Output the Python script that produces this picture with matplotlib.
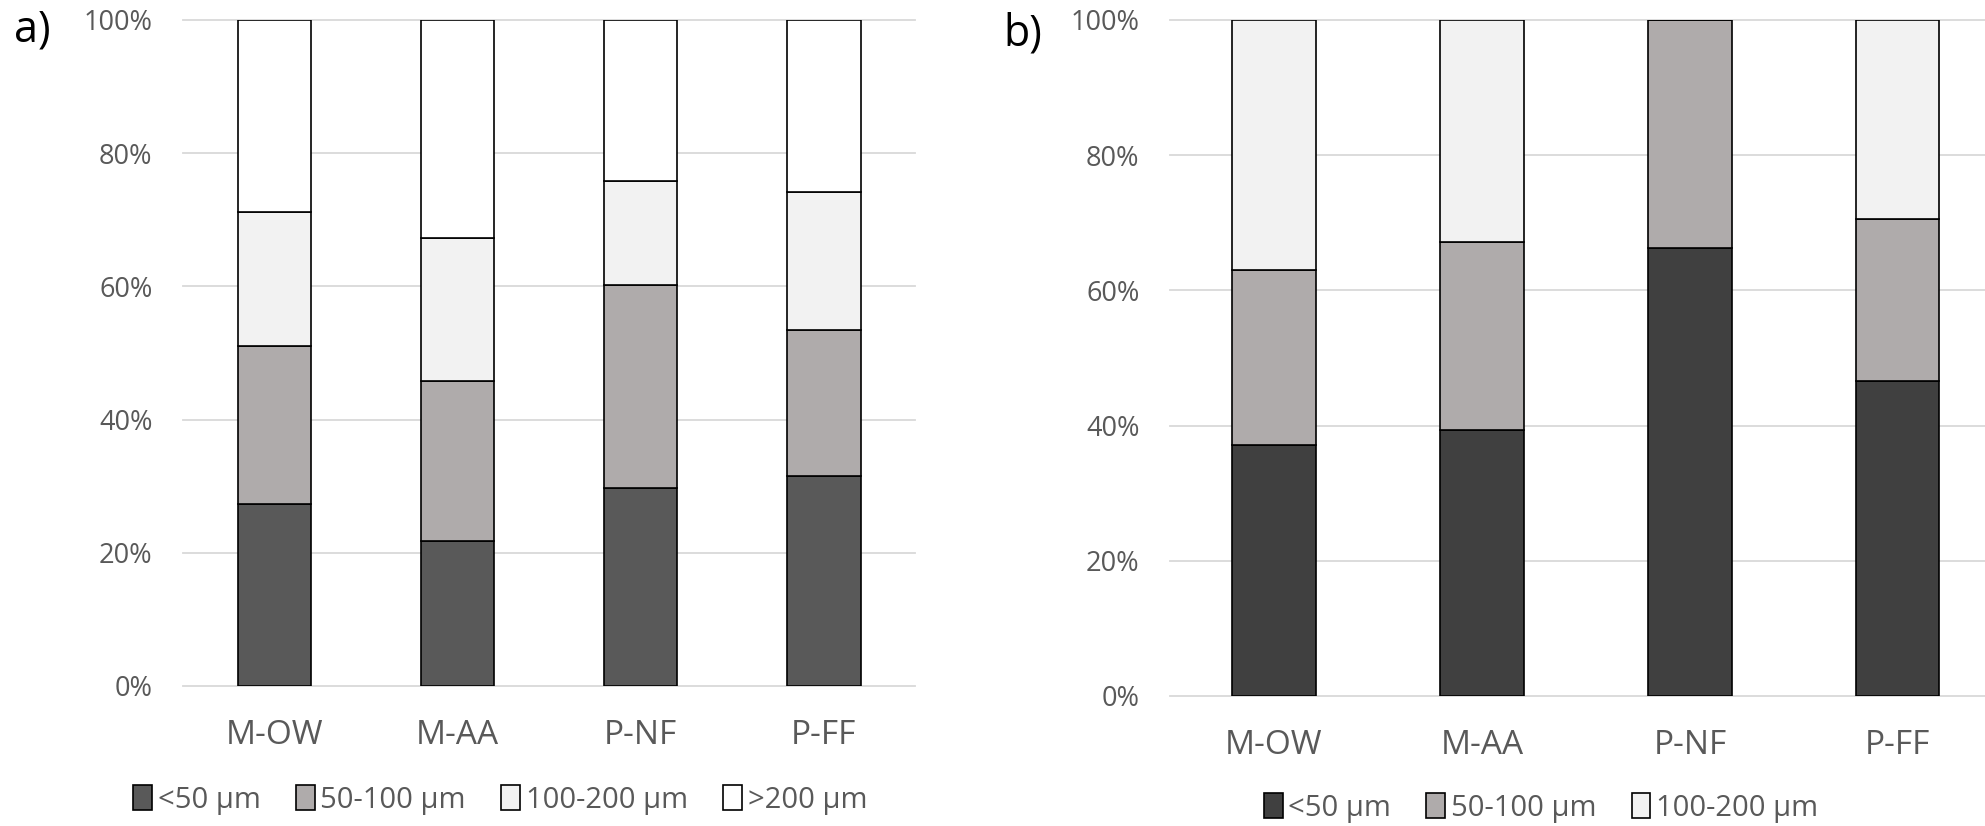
import numpy as np
import matplotlib.pyplot as plt
from matplotlib.patches import Patch

plt.rcParams['font.family'] = ['Open Sans', 'DejaVu Sans']

# categories and size classes
cats = ['M-OW', 'M-AA', 'P-NF', 'P-FF']
classes_a = ['<50 µm', '50-100 µm', '100-200 µm', '>200 µm']
classes_b = ['<50 µm', '50-100 µm', '100-200 µm']

# panel a) percentages per size class
a_lt50 = [27.4, 21.8, 29.8, 31.6]
a_50_100 = [23.6, 24.0, 30.4, 21.8]
a_100_200 = [20.1, 21.4, 15.6, 20.7]
a_gt200 = [28.9, 32.8, 24.2, 25.9]

# panel b) percentages per size class
b_lt50 = [37.1, 39.4, 66.3, 46.6]
b_50_100 = [25.9, 27.7, 33.7, 23.9]
b_100_200 = [37.0, 32.9, 0.0, 29.5]

colors_a = ['#595959', '#AFABAB', '#F2F2F2', '#FFFFFF']
colors_b = ['#404040', '#AFABAB', '#F2F2F2']

grey_txt = '#595959'
grid_col = '#D9D9D9'

fig = plt.figure(figsize=(19.85, 8.26), dpi=100)


def draw_panel(ax, series, colors):
    x = np.arange(len(cats))
    bottom = np.zeros(len(cats))
    for vals, c in zip(series, colors):
        vals = np.array(vals)
        ax.bar(x, vals, bottom=bottom, width=0.4, color=c,
               edgecolor='black', linewidth=1.2, zorder=3)
        bottom += vals
    ax.set_xlim(-0.5, len(cats) - 0.5)
    ax.set_ylim(0, 100)
    ax.set_yticks(np.arange(0, 101, 20))
    ax.set_yticklabels(['%d%%' % v for v in range(0, 101, 20)])
    ax.set_xticks(x)
    ax.set_xticklabels(cats)
    ax.yaxis.grid(True, color=grid_col, linewidth=1.3, zorder=0)
    for ln in ax.get_ygridlines():
        ln.set_clip_on(False)
    for s in ax.spines.values():
        s.set_visible(False)
    ax.tick_params(axis='both', length=0, colors=grey_txt)
    ax.tick_params(axis='y', labelsize=19.5, pad=22)
    ax.tick_params(axis='x', labelsize=24, pad=24)


ax1 = fig.add_axes([0.0922, 0.1695, 0.369, 0.8063])
draw_panel(ax1, [a_lt50, a_50_100, a_100_200, a_gt200], colors_a)

ax2 = fig.add_axes([0.5894, 0.1574, 0.4191, 0.8184])
draw_panel(ax2, [b_lt50, b_50_100, b_100_200], colors_b)

# legends
h_a = [Patch(facecolor=c, edgecolor='black', linewidth=1.2) for c in colors_a]
fig.legend(h_a, classes_a, loc='center', bbox_to_anchor=(500 / 1985, 1 - 800 / 826),
           ncol=4, frameon=False, fontsize=21, labelcolor=grey_txt,
           handlelength=0.65, handleheight=0.9, handletextpad=0.2, columnspacing=1.2)

h_b = [Patch(facecolor=c, edgecolor='black', linewidth=1.2) for c in colors_b]
fig.legend(h_b, classes_b, loc='center', bbox_to_anchor=(1541 / 1985, 1 - 808 / 826),
           ncol=3, frameon=False, fontsize=21, labelcolor=grey_txt,
           handlelength=0.65, handleheight=0.9, handletextpad=0.2, columnspacing=1.2)

# panel letters
fig.text(14 / 1985, 1 - 30 / 826, 'a)', fontsize=31, va='center', ha='left')
fig.text(1003 / 1985, 1 - 34 / 826, 'b)', fontsize=31, va='center', ha='left')

fig.savefig('out.png', dpi=100)
